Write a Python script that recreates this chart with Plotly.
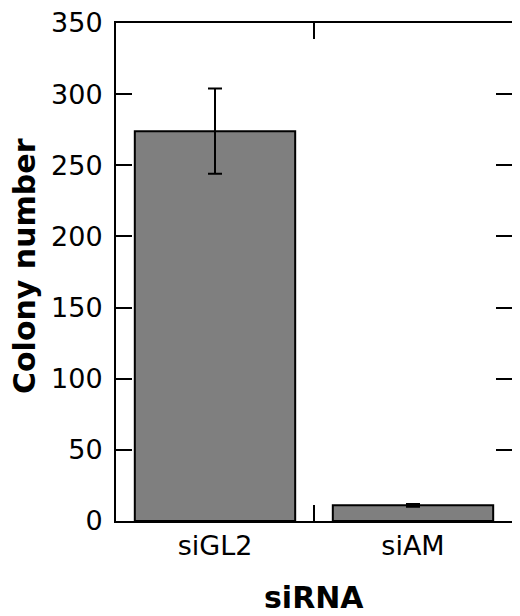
import plotly.graph_objects as go

# dados
categorias = ["siGL2", "siAM"]
colonias = [274, 11]
erro = [30, 1]
ticks_y = [0, 50, 100, 150, 200, 250, 300, 350]

fig = go.Figure()

fig.add_trace(go.Bar(
    x=categorias,
    y=colonias,
    width=0.81,
    marker=dict(
        color="white",
        line=dict(color="black", width=2),
        pattern=dict(shape=".", fgcolor="black", bgcolor="white", size=4, solidity=1),
    ),
    error_y=dict(type="data", array=erro, visible=True, color="black", thickness=2, width=7),
))

fonte = "DejaVu Sans"

# a página tem margem de 8px no body, por isso a figura é 8px menor
fig.update_layout(
    width=512,
    height=608,
    margin=dict(l=108, r=8, t=15, b=95),
    plot_bgcolor="white",
    paper_bgcolor="white",
    showlegend=False,
    font=dict(family=fonte, size=27, color="black"),
    xaxis=dict(
        showline=True, linewidth=2, linecolor="black", mirror="ticks",
        ticks="inside", ticklen=16, tickwidth=2, tickcolor="black",
        tickson="boundaries", showgrid=False, automargin=False,
        tickfont=dict(family=fonte, size=27),
    ),
    yaxis=dict(
        range=[0, 350], tickvals=ticks_y,
        showline=True, linewidth=2, linecolor="black", mirror="ticks",
        ticks="inside", ticklen=16, tickwidth=2, tickcolor="black",
        showgrid=False, zeroline=False, automargin=False,
        tickfont=dict(family=fonte, size=27),
        ticklabelstandoff=6,
        ticklabeloverflow="allow",
    ),
    annotations=[
        dict(text="<b>Colony number</b>", x=0, y=0.512, xref="paper", yref="paper",
             xanchor="center", yanchor="middle", textangle=-90, xshift=-92, showarrow=False,
             font=dict(family=fonte, size=30, color="black")),
        dict(text="<b>siRNA</b>", x=0.5, y=0, xref="paper", yref="paper",
             xanchor="center", yanchor="middle", yshift=-76, showarrow=False,
             font=dict(family=fonte, size=30, color="black")),
    ],
)

fig.write_html("out.html")
